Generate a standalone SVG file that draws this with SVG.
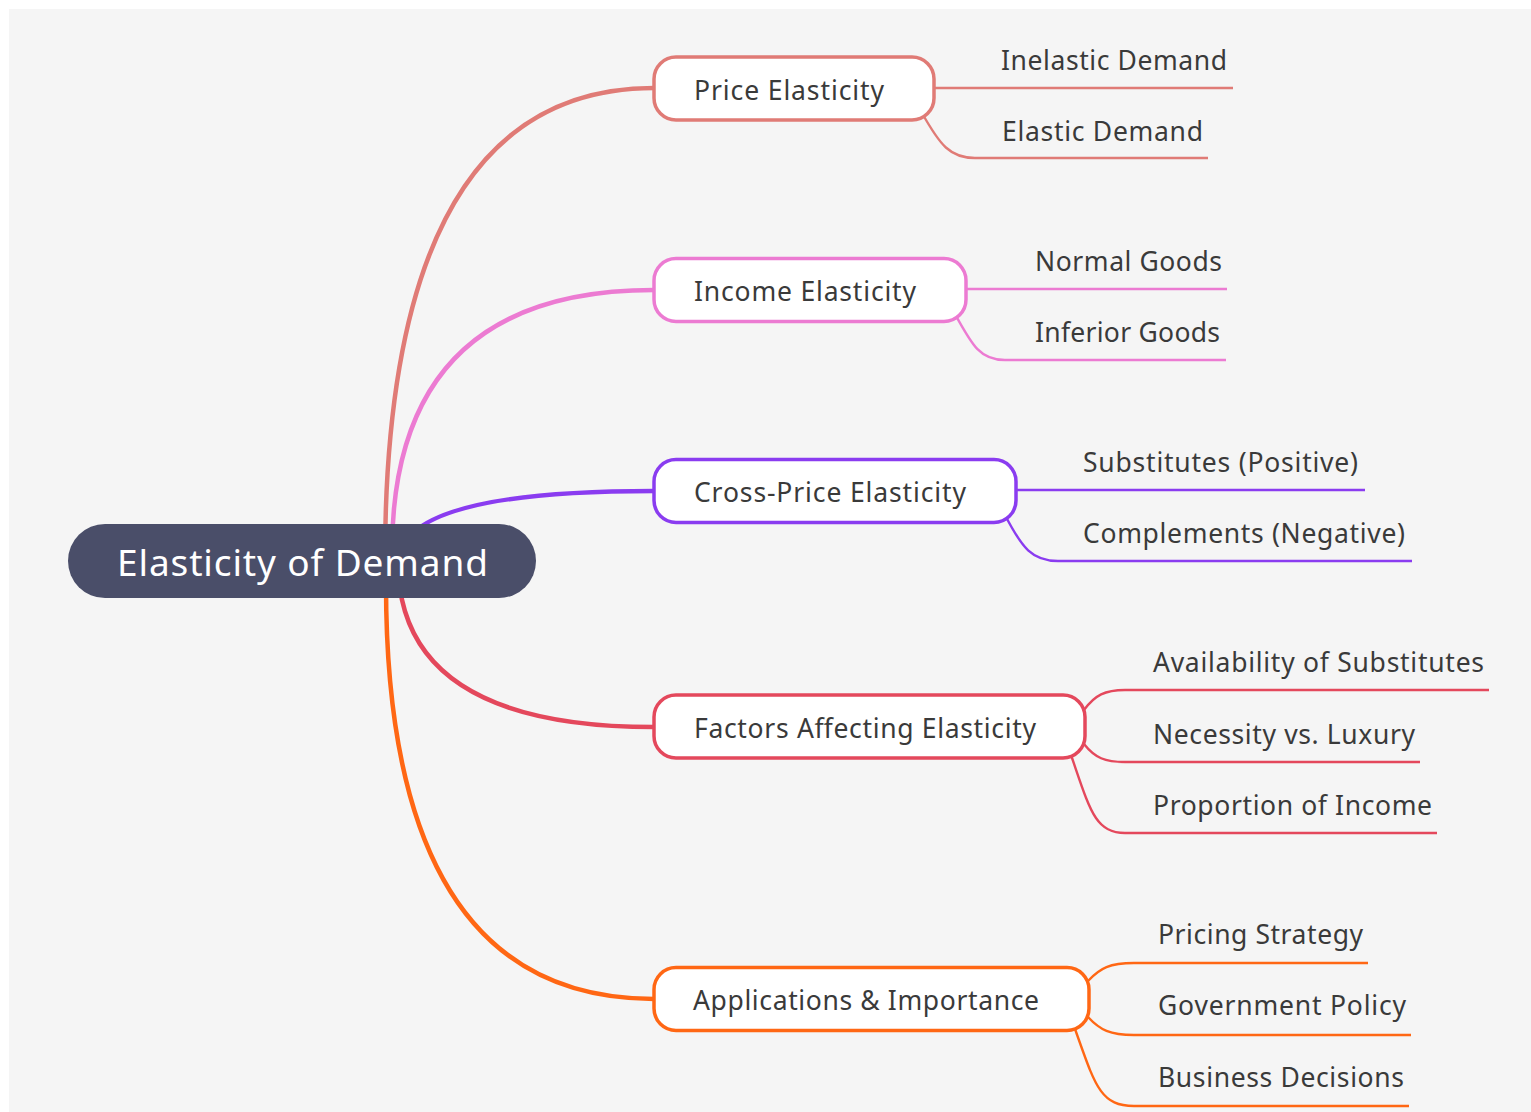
<svg xmlns="http://www.w3.org/2000/svg" width="1531" height="1112" viewBox="0 0 1531 1112">
<style>
.txt{font-family:"Noto Sans","Open Sans","DejaVu Sans",sans-serif;font-size:26.5px;fill:#3a3a3a}
.node{fill:#ffffff;stroke-width:3.5}
.main{fill:none;stroke-width:4.5;stroke-linecap:round}
.sub{fill:none;stroke-width:2.4}
</style>
<rect x="0" y="0" width="1531" height="1112" fill="#ffffff"/>
<rect x="9" y="9" width="1522" height="1103" fill="#f5f5f5"/>
<g id="connectors">
  <path class="main" stroke="#e07b76" d="M 385 561 Q 385 88 654 88"/>
  <path class="main" stroke="#ec7bd2" d="M 392 552 Q 392 290 654 290"/>
  <path class="main" stroke="#8a3cf0" d="M 400 561 Q 400 491 654 491"/>
  <path class="main" stroke="#e4485c" d="M 398 561 Q 398 727 654 727"/>
  <path class="main" stroke="#ff6714" d="M 386 585 Q 386 999 654 999"/>
  <path class="sub" stroke="#e07b76" d="M 934 88 L 1233 88"/>
  <path class="sub" stroke="#e07b76" d="M 922 113 C 940 145, 950 158, 975 158 L 1208 158"/>
  <path class="sub" stroke="#ec7bd2" d="M 966 289 L 1227 289"/>
  <path class="sub" stroke="#ec7bd2" d="M 955 314 C 972 345, 980 360, 1005 360 L 1226 360"/>
  <path class="sub" stroke="#8a3cf0" d="M 1016 490 L 1365 490"/>
  <path class="sub" stroke="#8a3cf0" d="M 1005 515 C 1022 548, 1032 561, 1058 561 L 1412 561"/>
  <path class="sub" stroke="#e4485c" d="M 1084 710 C 1095 695, 1105 690, 1125 690 L 1489 690"/>
  <path class="sub" stroke="#e4485c" d="M 1084 744 C 1095 758, 1105 762, 1125 762 L 1420 762"/>
  <path class="sub" stroke="#e4485c" d="M 1071 755 C 1090 810, 1095 833, 1125 833 L 1437 833"/>
  <path class="sub" stroke="#ff6714" d="M 1088 981 C 1100 968, 1110 963, 1134 963 L 1368 963"/>
  <path class="sub" stroke="#ff6714" d="M 1088 1017 C 1100 1030, 1110 1035, 1134 1035 L 1411 1035"/>
  <path class="sub" stroke="#ff6714" d="M 1075 1029 C 1095 1085, 1100 1106, 1134 1106 L 1409 1106"/>
</g>
<g id="root">
  <rect x="68" y="524" width="468" height="74" rx="37" fill="#4a4e69"/>
  <text x="117" y="576" font-family="Noto Sans, Open Sans, DejaVu Sans, sans-serif" font-size="37" fill="#ffffff" textLength="371" lengthAdjust="spacing">Elasticity of Demand</text>
</g>
<g id="price">
  <rect class="node" stroke="#e07b76" x="654" y="57" width="280" height="63" rx="22"/>
  <text class="txt" x="694" y="100" textLength="190" lengthAdjust="spacing">Price Elasticity</text>
</g>
<g id="price-inelastic"><text class="txt" x="1001" y="70" textLength="226" lengthAdjust="spacing">Inelastic Demand</text></g>
<g id="price-elastic"><text class="txt" x="1002" y="141" textLength="201" lengthAdjust="spacing">Elastic Demand</text></g>
<g id="income">
  <rect class="node" stroke="#ec7bd2" x="654" y="258.5" width="312" height="63" rx="22"/>
  <text class="txt" x="694" y="301" textLength="222" lengthAdjust="spacing">Income Elasticity</text>
</g>
<g id="income-normal"><text class="txt" x="1035" y="271" textLength="187" lengthAdjust="spacing">Normal Goods</text></g>
<g id="income-inferior"><text class="txt" x="1035" y="342" textLength="185" lengthAdjust="spacing">Inferior Goods</text></g>
<g id="cross">
  <rect class="node" stroke="#8a3cf0" x="654" y="459.5" width="362" height="63" rx="22"/>
  <text class="txt" x="694" y="502" textLength="272" lengthAdjust="spacing">Cross-Price Elasticity</text>
</g>
<g id="cross-substitutes"><text class="txt" x="1083" y="472" textLength="275" lengthAdjust="spacing">Substitutes (Positive)</text></g>
<g id="cross-complements"><text class="txt" x="1083" y="543" textLength="322" lengthAdjust="spacing">Complements (Negative)</text></g>
<g id="factors">
  <rect class="node" stroke="#e4485c" x="654" y="695" width="431" height="63" rx="22"/>
  <text class="txt" x="694" y="738" textLength="342" lengthAdjust="spacing">Factors Affecting Elasticity</text>
</g>
<g id="factors-availability"><text class="txt" x="1153" y="672" textLength="331" lengthAdjust="spacing">Availability of Substitutes</text></g>
<g id="factors-necessity"><text class="txt" x="1153" y="744" textLength="262" lengthAdjust="spacing">Necessity vs. Luxury</text></g>
<g id="factors-proportion"><text class="txt" x="1153" y="815" textLength="279" lengthAdjust="spacing">Proportion of Income</text></g>
<g id="applications">
  <rect class="node" stroke="#ff6714" x="654" y="967.5" width="435" height="63" rx="22"/>
  <text class="txt" x="693" y="1010" textLength="346" lengthAdjust="spacing">Applications &amp; Importance</text>
</g>
<g id="applications-pricing"><text class="txt" x="1158" y="944" textLength="205" lengthAdjust="spacing">Pricing Strategy</text></g>
<g id="applications-government"><text class="txt" x="1158" y="1015" textLength="248" lengthAdjust="spacing">Government Policy</text></g>
<g id="applications-business"><text class="txt" x="1158" y="1087" textLength="246" lengthAdjust="spacing">Business Decisions</text></g>
</svg>
